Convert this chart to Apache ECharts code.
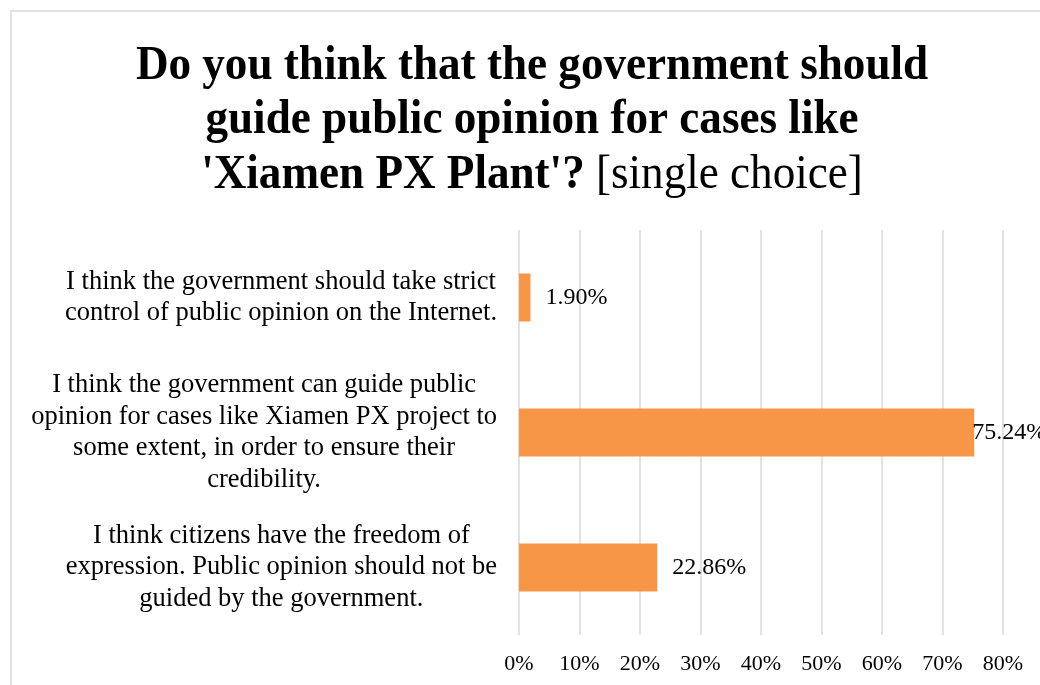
<!DOCTYPE html>
<html>
<head>
<meta charset="utf-8">
<script src="https://cdn.jsdelivr.net/npm/echarts@6/dist/echarts.min.js"></script>
<style>
  html, body { margin: 0; padding: 0; background: #fff; }
  #chart { width: 1040px; height: 685px; }
</style>
</head>
<body>
<div id="chart"></div>
<script>
// Answer options (top to bottom)
const categories = [
  'I think the government should take strict\ncontrol of public opinion on the Internet.',
  'I think the government can guide public\nopinion for cases like Xiamen PX project to\nsome extent, in order to ensure their\ncredibility.',
  'I think citizens have the freedom of\nexpression. Public opinion should not be\nguided by the government.'
];
// Share of respondents, in percent
const shares = [1.90, 75.24, 22.86];
// Axis tick labels
const tickValues = [0, 10, 20, 30, 40, 50, 60, 70, 80];

const SERIF = '"Liberation Serif", "Times New Roman", serif';
const chart = echarts.init(document.getElementById('chart'), null, { renderer: 'canvas' });

const barData = shares.map(function (v) {
  const item = { value: v };
  // the longest bar keeps its label tight against the bar end
  if (v === Math.max.apply(null, shares)) item.label = { distance: -2 };
  return item;
});

chart.setOption({
  backgroundColor: '#fff',
  animation: false,
  graphic: [
    {
      type: 'rect',
      shape: { x: 11, y: 11, width: 1200, height: 900 },
      style: { fill: 'none', stroke: '#d9d9d9', lineWidth: 1.5 },
      silent: true
    },
    {
      type: 'text',
      x: 532,
      y: 39,
      scaleX: 0.94,
      style: {
        text: '{b|Do you think that the government should}\n{b|guide public opinion for cases like}\n{b|\'Xiamen PX Plant\'?}{n| [single choice]}',
        align: 'center',
        verticalAlign: 'top',
        rich: {
          b: { fontFamily: SERIF, fontWeight: 'bold', fontSize: 48, lineHeight: 54.5, color: '#000', align: 'center' },
          n: { fontFamily: SERIF, fontWeight: 'normal', fontSize: 48, lineHeight: 54.5, color: '#000', align: 'center' }
        }
      }
    }
  ],
  grid: { left: 519, right: 37, top: 230, bottom: 50, containLabel: false },
  xAxis: {
    type: 'value',
    min: 0,
    max: 80,
    interval: 10,
    axisLine: { show: false },
    axisTick: { show: false },
    splitLine: { show: true, lineStyle: { color: '#d9d9d9', width: 1.5 } },
    axisLabel: {
      margin: 18,
      color: '#000',
      fontFamily: SERIF,
      fontSize: 22,
      formatter: function (v) { return tickValues.indexOf(v) >= 0 ? v + '%' : ''; }
    }
  },
  yAxis: {
    type: 'category',
    data: categories,
    inverse: true,
    axisLine: { show: false },
    axisTick: { show: false },
    axisLabel: {
      margin: 22,
      align: 'right',
      formatter: function (v) {
        return v.split('\n').map(function (l) { return '{c|' + l + '}'; }).join('\n');
      },
      rich: {
        c: { fontFamily: SERIF, fontSize: 26.5, lineHeight: 31.5, color: '#000', align: 'center' }
      }
    }
  },
  series: [{
    type: 'bar',
    data: barData,
    barWidth: 48,
    itemStyle: { color: '#F79646' },
    label: {
      show: true,
      position: 'right',
      distance: 15,
      color: '#000',
      fontFamily: SERIF,
      fontSize: 24,
      formatter: function (p) { return p.value.toFixed(2) + '%'; }
    }
  }]
});
</script>
</body>
</html>
